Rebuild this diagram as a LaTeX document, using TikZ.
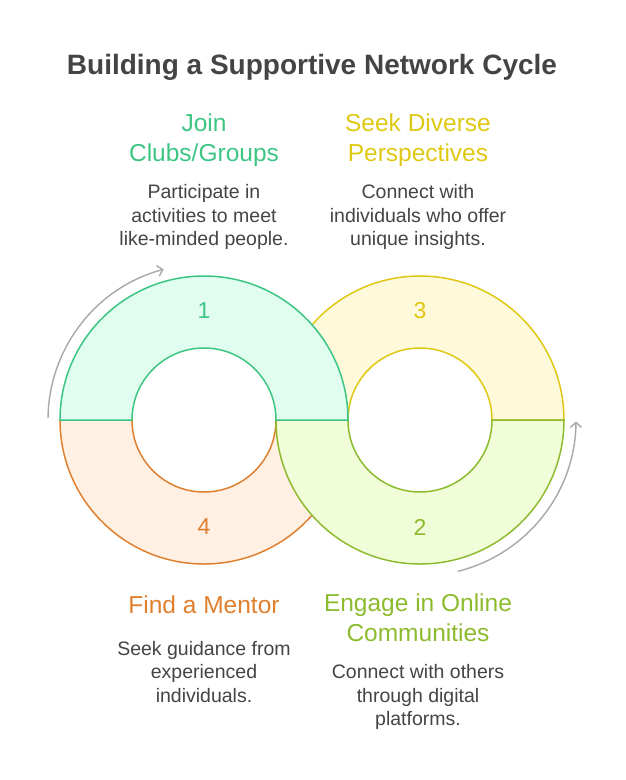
\documentclass[tikz,border=0pt]{standalone}
\usepackage{fontspec}
\setmainfont{Liberation Sans}
\usetikzlibrary{arrows.meta}
\definecolor{gS}{HTML}{3CC583}
\definecolor{gF}{HTML}{E0FDF0}
\definecolor{yS}{HTML}{DFC814}
\definecolor{yF}{HTML}{FFF9DB}
\definecolor{oS}{HTML}{E0802F}
\definecolor{oF}{HTML}{FFF0E3}
\definecolor{lS}{HTML}{8DBB2E}
\definecolor{lF}{HTML}{F1FDD9}
\definecolor{txt}{HTML}{444444}
\definecolor{arr}{HTML}{A8A8A8}
\tikzset{
  seg/.style={line width=1.5pt, line join=round},
  head/.style={inner sep=0pt, align=center, font=\fontsize{24.5}{30}\selectfont},
  desc/.style={inner sep=0pt, align=center, text=txt, font=\fontsize{19.5}{23.5}\selectfont},
  num/.style={inner sep=0pt, font=\fontsize{23}{26}\selectfont},
  cyc/.style={draw=arr, line width=1.4pt, -{Straight Barb[length=5pt,width=11pt]}}
}
\begin{document}
\begin{tikzpicture}[x=1pt,y=1pt]
\useasboundingbox (0,0) rectangle (625,-780);
% segment 3 (yellow, top right)
\path[seg, draw=yS, fill=yF] (276,-420) arc[start angle=180, end angle=0, radius=144] -- (492,-420) arc[start angle=0, end angle=180, radius=72] -- cycle;
% segment 4 (orange, bottom left)
\path[seg, draw=oS, fill=oF] (60,-420) arc[start angle=180, end angle=360, radius=144] -- (276,-420) arc[start angle=0, end angle=-180, radius=72] -- cycle;
% segment 2 (lime, bottom right)
\path[seg, draw=lS, fill=lF] (276,-420) arc[start angle=180, end angle=360, radius=144] -- (492,-420) arc[start angle=0, end angle=-180, radius=72] -- cycle;
% segment 1 (green, top left)
\path[seg, draw=gS, fill=gF] (60,-420) arc[start angle=180, end angle=0, radius=144] -- (276,-420) arc[start angle=0, end angle=180, radius=72] -- cycle;
% cycle arrows
\draw[cyc] ([shift={(179.3:156)}]204,-420) arc[start angle=179.3, end angle=105, radius=156];
\draw[cyc] ([shift={(-76:156)}]420,-420) arc[start angle=-76, end angle=-0.5, radius=156];
% numbers
\node[num, text=gS] (n1) at (204,-311) {1};
\node[num, text=lS] (n2) at (420,-527) {2};
\node[num, text=yS] (n3) at (420,-311) {3};
\node[num, text=oS] (n4) at (204,-527) {4};
% title
\node[inner sep=0pt, text=txt, font=\fontsize{28}{32}\selectfont\bfseries] (title) at (312,-67) {Building a Supportive Network Cycle};
% labels
\node[head, text=gS] (h1) at (204,-140) {Join\\Clubs/Groups};
\node[desc] (d1) at (204,-217) {Participate in\\activities to meet\\like-minded people.};
\node[head, text=yS] (h3) at (418,-140) {Seek Diverse\\Perspectives};
\node[desc] (d3) at (418,-217) {Connect with\\individuals who offer\\unique insights.};
\node[head, text=oS] (h4) at (204,-605) {Find a Mentor};
\node[desc] (d4) at (204,-672) {Seek guidance from\\experienced\\individuals.};
\node[head, text=lS] (h2) at (418,-618) {Engage in Online\\Communities};
\node[desc] (d2) at (418,-697) {Connect with others\\through digital\\platforms.};
\end{tikzpicture}
\end{document}
